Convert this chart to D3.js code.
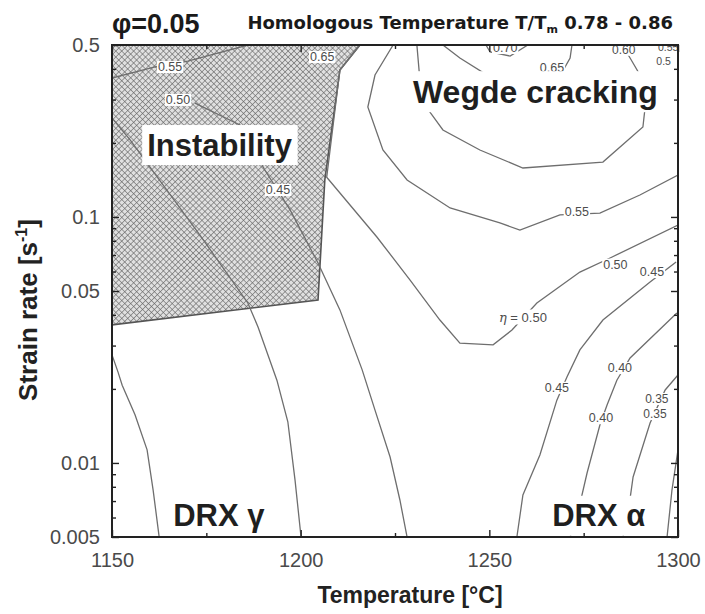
<!DOCTYPE html>
<html>
<head>
<meta charset="utf-8">
<script src="https://cdn.jsdelivr.net/npm/d3@7"></script>
<style>
  html, body { margin: 0; padding: 0; background: #fff; }
  svg { display: block; font-family: "Liberation Sans", Arial, sans-serif; }
</style>
</head>
<body>
<svg id="chart" width="705" height="614"></svg>
<script>
// Processing map, strain 0.05: iso-efficiency lines (eta) over temperature / strain rate.
// Each line is a list of [temperature °C, strain rate 1/s].

const xTicks = [1150, 1200, 1250, 1300];
const xMinorTicks = [1175, 1225, 1275];
const yTicks = [0.005, 0.01, 0.05, 0.1, 0.5];
const yTickLabels = ["0.005", "0.01", "0.05", "0.1", "0.5"];
const yMinorTicks = [0.006, 0.007, 0.008, 0.009, 0.02, 0.03, 0.04, 0.06, 0.07, 0.08, 0.09, 0.2, 0.3, 0.4];

const lineLeftA = [[1150, 0.0275], [1151.6, 0.0234], [1152.7, 0.0207], [1156.1, 0.0157], [1159.3, 0.0113], [1160.9, 0.00776], [1162.5, 0.005]];
const lineLeftB = [[1150, 0.2524], [1154.8, 0.2056], [1160.6, 0.1552], [1173.3, 0.0844], [1186.0, 0.0447], [1188.7, 0.0357], [1193.7, 0.0217], [1196.6, 0.0147], [1198.5, 0.00853], [1200.1, 0.005]];
const line045Left = [[1172.0, 0.2904], [1183.9, 0.2364], [1190.5, 0.1552], [1197.2, 0.1068], [1204.6, 0.065], [1210.4, 0.0419], [1216.3, 0.0239], [1219.7, 0.0164], [1223.7, 0.01057], [1226.3, 0.00707], [1228.2, 0.005]];
const line050 = [[1215.7, 0.5], [1210.4, 0.3957], [1206.9, 0.145], [1220.2, 0.0829], [1229.0, 0.0554], [1236.9, 0.0381], [1242.2, 0.0307], [1251.0, 0.0302], [1256.0, 0.0347], [1262.6, 0.0447], [1274.0, 0.0597], [1282.0, 0.0681], [1300, 0.0927]];
const line055 = [[1224.5, 0.5], [1219.7, 0.3776], [1217.8, 0.2799], [1221.8, 0.1871], [1228.2, 0.1413], [1239.6, 0.1088], [1252.8, 0.0945], [1258.1, 0.0885], [1268.7, 0.1019], [1279.3, 0.1037], [1289.9, 0.1228], [1300, 0.148]];
const line060 = [[1230.8, 0.5], [1231.6, 0.3604], [1232.9, 0.2851], [1237.7, 0.2257], [1247.5, 0.1871], [1258.9, 0.1581], [1280.1, 0.1672], [1290.7, 0.2321], [1291.5, 0.2988], [1290.7, 0.3604], [1287.3, 0.4427], [1285.2, 0.5]];
const line065 = [[1237.7, 0.5], [1242.2, 0.4427], [1252.8, 0.3501], [1260.8, 0.319], [1266.6, 0.3501], [1269.3, 0.3883], [1271.4, 0.4427], [1271.9, 0.5]];
const line070 = [[1249.1, 0.5], [1250.2, 0.4683], [1255.5, 0.451], [1260.2, 0.5]];
const line045Right = [[1299.5, 0.0656], [1292.6, 0.0544], [1280.1, 0.0381], [1274.0, 0.0288], [1270.6, 0.0224], [1267.9, 0.018], [1263.4, 0.01077], [1258.9, 0.00741], [1257.3, 0.005]];
const line040 = [[1299.7, 0.0407], [1287.3, 0.0267], [1283.8, 0.0217], [1281.2, 0.0172], [1279.3, 0.01427], [1275.9, 0.0091], [1273.2, 0.00603], [1271.4, 0.005]];
const line035 = [[1300, 0.0228], [1296.6, 0.0198], [1292.6, 0.01453], [1288.1, 0.00877], [1286.5, 0.00586], [1285.4, 0.005]];
const line030 = [[1297.1, 0.005], [1298.4, 0.00776], [1300, 0.0113]];
const lineInstabTop = [[1150, 0.367], [1161.4, 0.407], [1170.1, 0.43], [1186.0, 0.5]];

const instabilityRegion = [[1150, 0.5], [1215.7, 0.5], [1210.4, 0.3957], [1206.4, 0.1413], [1204.6, 0.04595], [1150, 0.0364]];

const contourLines = [lineLeftA, lineLeftB, line045Left, line050, line055, line060, line065, line070, line045Right, line040, line035, line030, lineInstabTop];

// [temperature, strain rate, text, font size]
const contourLabels = [
  [1165.4, 0.407, "0.55", 12.5], [1167.5, 0.299, "0.50", 12.5], [1194.0, 0.1287, "0.45", 12.5], [1205.7, 0.447, "0.65", 12.5],
  [1254.2, 0.486, "0.70", 12.5], [1266.6, 0.4032, "0.65", 12.5], [1285.6, 0.478, "0.60", 12],
  [1297.4, 0.49, "0.55", 10.5], [1296.2, 0.4305, "0.5", 10.5],
  [1273.2, 0.1047, "0.55", 12.5], [1283.4, 0.0640, "0.50", 12.5], [1293.1, 0.0597, "0.45", 12.5], [1267.9, 0.0202, "0.45", 12.5],
  [1284.6, 0.0243, "0.40", 12.5], [1279.6, 0.0152, "0.40", 12.5], [1294.4, 0.0182, "0.35", 12], [1293.9, 0.0158, "0.35", 12]
];
const etaLabel = [1258.9, 0.0392, "0.50"];

// [temperature, strain rate, text, font size]
const regionLabels = [
  [1178.5, 0.196, "Instability", 31],
  [1262.2, 0.323, "Wegde cracking", 32],
  [1178.3, 0.0061, "DRX γ", 31],
  [1279.0, 0.0061, "DRX α", 31]
];

const svg = d3.select("#chart");
const W = 705, H = 614;
const margin = { left: 112, right: 27, top: 45, bottom: 77 };

const x = d3.scaleLinear().domain([1150, 1300]).range([margin.left, W - margin.right]);
const y = d3.scaleLog().domain([0.005, 0.5]).range([H - margin.bottom, margin.top]);

const defs = svg.append("defs");
defs.append("clipPath").attr("id", "plotClip")
  .append("rect")
  .attr("x", x(1150)).attr("y", y(0.5))
  .attr("width", x(1300) - x(1150)).attr("height", y(0.005) - y(0.5));

const pat = defs.append("pattern").attr("id", "hatch")
  .attr("width", 4.2).attr("height", 4.2)
  .attr("patternUnits", "userSpaceOnUse")
  .attr("patternTransform", "rotate(45)");
pat.append("rect").attr("width", 4.2).attr("height", 4.2).attr("fill", "#e0e0e0");
pat.append("line").attr("x1", 0).attr("y1", 0).attr("x2", 0).attr("y2", 4.2).attr("stroke", "#666").attr("stroke-width", 1.2);
pat.append("line").attr("x1", 0).attr("y1", 0).attr("x2", 4.2).attr("y2", 0).attr("stroke", "#666").attr("stroke-width", 1.2);

const plot = svg.append("g").attr("clip-path", "url(#plotClip)");

const line = d3.line().x(d => x(d[0])).y(d => y(d[1]));

// instability domain
plot.append("path")
  .attr("d", line(instabilityRegion) + "Z")
  .attr("fill", "url(#hatch)")
  .attr("stroke", "#555")
  .attr("stroke-width", 1.6);

// iso-efficiency lines
plot.selectAll("path.iso")
  .data(contourLines)
  .join("path")
  .attr("class", "iso")
  .attr("d", line)
  .attr("fill", "none")
  .attr("stroke", "#6e6e6e")
  .attr("stroke-width", 1.3);

// label with white backing that interrupts the lines underneath
function boxedText(g, px, py, text, opts) {
  const grp = g.append("g");
  const bg = grp.append("rect").attr("fill", "#fff");
  const t = grp.append("text")
    .attr("x", px).attr("y", py)
    .attr("text-anchor", "middle")
    .attr("dominant-baseline", "central")
    .attr("font-size", opts.size)
    .attr("font-weight", opts.weight || "normal")
    .attr("fill", opts.color || "#222")
    .text(text);
  const b = t.node().getBBox();
  const p = opts.pad || 1;
  bg.attr("x", b.x - p).attr("y", b.y + 1)
    .attr("width", b.width + 2 * p).attr("height", Math.max(1, b.height - 2));
  if (opts.weight === "bold") {
    bg.attr("y", b.y - p * 0.5).attr("height", b.height + p);
  }
  return t;
}

contourLabels.forEach(d => boxedText(plot, x(d[0]), y(d[1]), d[2], { size: d[3], color: "#4d4d4d", pad: 1 }));

// eta label on the 0.50 line
{
  const g = plot.append("g");
  const bg = g.append("rect").attr("fill", "#fff");
  const t = g.append("text")
    .attr("x", x(etaLabel[0])).attr("y", y(etaLabel[1]))
    .attr("text-anchor", "middle")
    .attr("dominant-baseline", "central")
    .attr("font-size", 13).attr("fill", "#4d4d4d");
  t.append("tspan").attr("font-family", "DejaVu Serif").attr("font-style", "italic").text("η");
  t.append("tspan").text(" = " + etaLabel[2]);
  const b = t.node().getBBox();
  bg.attr("x", b.x - 1).attr("y", b.y).attr("width", b.width + 2).attr("height", b.height);
}

regionLabels.forEach(d => boxedText(plot, x(d[0]), y(d[1]), d[2], { size: d[3], weight: "bold", color: "#1f1f1f", pad: 5 }));

// axes with inward ticks on all four sides
const axes = svg.append("g");
const fmtY = d => yTickLabels[yTicks.indexOf(d)];

axes.append("g").attr("transform", `translate(0,${y(0.005)})`)
  .call(d3.axisBottom(x).tickValues(xTicks).tickSize(-7).tickPadding(16).tickFormat(d3.format("d")));
axes.append("g").attr("transform", `translate(0,${y(0.005)})`)
  .call(d3.axisBottom(x).tickValues(xMinorTicks).tickSize(-4).tickFormat(""));
axes.append("g").attr("transform", `translate(0,${y(0.5)})`)
  .call(d3.axisTop(x).tickValues(xTicks).tickSize(-7).tickFormat(""));
axes.append("g").attr("transform", `translate(0,${y(0.5)})`)
  .call(d3.axisTop(x).tickValues(xMinorTicks).tickSize(-4).tickFormat(""));

axes.append("g").attr("transform", `translate(${x(1150)},0)`)
  .call(d3.axisLeft(y).tickValues(yTicks).tickSize(-7).tickPadding(12).tickFormat(fmtY));
axes.append("g").attr("transform", `translate(${x(1150)},0)`)
  .call(d3.axisLeft(y).tickValues(yMinorTicks).tickSize(-4).tickFormat(""));
axes.append("g").attr("transform", `translate(${x(1300)},0)`)
  .call(d3.axisRight(y).tickValues(yTicks).tickSize(-7).tickFormat(""));
axes.append("g").attr("transform", `translate(${x(1300)},0)`)
  .call(d3.axisRight(y).tickValues(yMinorTicks).tickSize(-4).tickFormat(""));

axes.selectAll(".domain").remove();
axes.selectAll(".tick line").attr("stroke", "#222").attr("stroke-width", 1.4);
axes.selectAll(".tick text")
  .attr("font-family", "Liberation Sans, Arial, sans-serif")
  .attr("font-size", 20).attr("fill", "#4a4a4a");

svg.append("rect")
  .attr("x", x(1150)).attr("y", y(0.5))
  .attr("width", x(1300) - x(1150)).attr("height", y(0.005) - y(0.5))
  .attr("fill", "none").attr("stroke", "#222").attr("stroke-width", 2);

// axis titles
svg.append("text")
  .attr("x", 410).attr("y", 603)
  .attr("text-anchor", "middle")
  .attr("font-size", 23).attr("font-weight", "bold").attr("fill", "#222")
  .text("Temperature [°C]");

const yt = svg.append("text")
  .attr("transform", "translate(37,310) rotate(-90)")
  .attr("text-anchor", "middle")
  .attr("font-size", 26).attr("font-weight", "bold").attr("fill", "#222");
yt.append("tspan").text("Strain rate [s");
yt.append("tspan").attr("font-size", 16).attr("dy", -10).text("-1");
yt.append("tspan").attr("dy", 10).text("]");

// header
svg.append("text")
  .attr("x", 112).attr("y", 33)
  .attr("font-size", 27).attr("font-weight", "bold").attr("fill", "#1a1a1a")
  .text("φ=0.05");

const hdr = svg.append("text")
  .attr("x", 673).attr("y", 29)
  .attr("text-anchor", "end")
  .attr("font-family", "DejaVu Sans, sans-serif")
  .attr("font-size", 18).attr("font-weight", "bold").attr("fill", "#1a1a1a");
hdr.append("tspan").text("Homologous Temperature T/T");
hdr.append("tspan").attr("font-size", 11).attr("dy", 4).text("m");
hdr.append("tspan").attr("dy", -4).text(" 0.78 - 0.86");
</script>
</body>
</html>
